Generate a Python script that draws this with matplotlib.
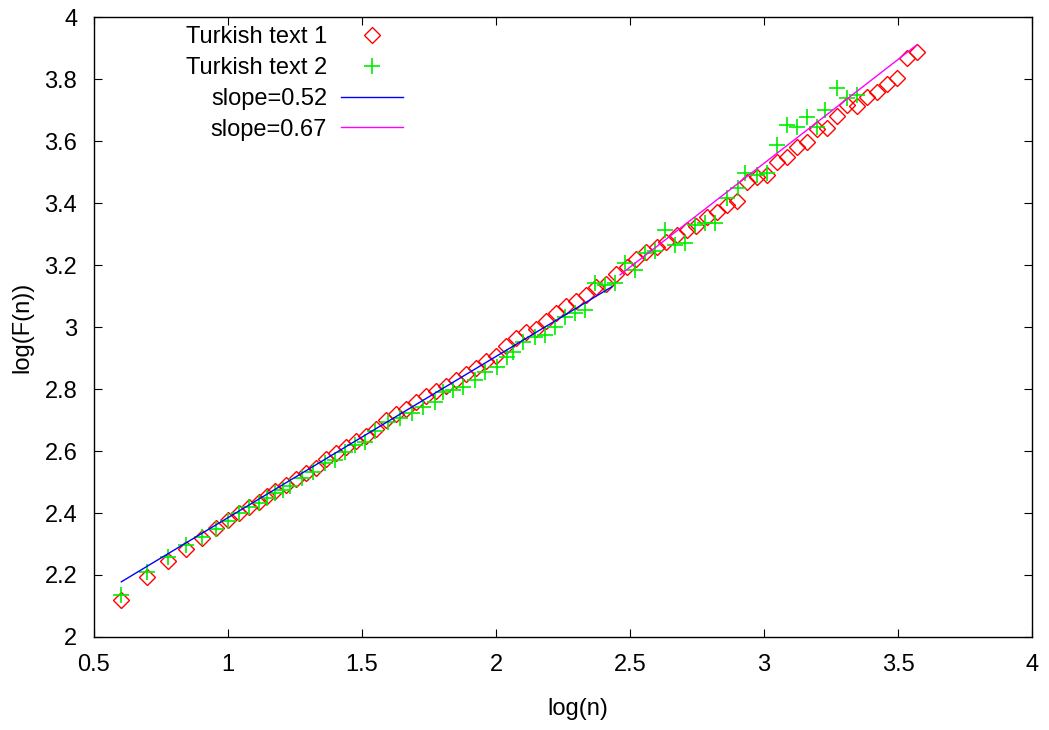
import matplotlib
matplotlib.use("Agg")

import numpy as np
import matplotlib.pyplot as plt

plt.rcParams["font.family"] = ["Liberation Sans", "DejaVu Sans"]

# =========================
# DATA
# =========================

text1_x = [0.602, 0.699, 0.778, 0.845, 0.903, 0.954, 1.000, 1.041, 1.079,
           1.114, 1.146, 1.176, 1.215, 1.252, 1.290, 1.327, 1.365, 1.402,
           1.439, 1.477, 1.514, 1.552, 1.589, 1.626, 1.664, 1.701, 1.739,
           1.776, 1.813, 1.851, 1.888, 1.926, 1.963, 2.000, 2.038, 2.075,
           2.113, 2.150, 2.187, 2.225, 2.262, 2.300, 2.337, 2.374, 2.412,
           2.449, 2.487, 2.524, 2.561, 2.599, 2.636, 2.674, 2.711, 2.748,
           2.786, 2.823, 2.861, 2.898, 2.935, 2.973, 3.010, 3.048, 3.085,
           3.122, 3.160, 3.197, 3.235, 3.272, 3.310, 3.347, 3.384, 3.422,
           3.459, 3.496, 3.534, 3.571]
text1_y = [2.120, 2.195, 2.245, 2.285, 2.320, 2.350, 2.377, 2.400, 2.420,
           2.437, 2.455, 2.470, 2.490, 2.510, 2.528, 2.545, 2.575, 2.595,
           2.613, 2.632, 2.650, 2.672, 2.700, 2.718, 2.737, 2.757, 2.777,
           2.795, 2.810, 2.830, 2.848, 2.868, 2.890, 2.908, 2.940, 2.965,
           2.983, 2.995, 3.020, 3.045, 3.068, 3.085, 3.102, 3.128, 3.140,
           3.170, 3.192, 3.220, 3.242, 3.258, 3.275, 3.297, 3.313, 3.325,
           3.355, 3.370, 3.395, 3.406, 3.468, 3.485, 3.490, 3.532, 3.550,
           3.580, 3.598, 3.638, 3.642, 3.680, 3.716, 3.712, 3.742, 3.758,
           3.784, 3.803, 3.868, 3.887]

text2_x = [0.602, 0.699, 0.778, 0.845, 0.903, 0.954, 1.000, 1.041, 1.079,
           1.114, 1.146, 1.176, 1.204, 1.230, 1.276, 1.317, 1.362, 1.399,
           1.437, 1.474, 1.511, 1.550, 1.597, 1.642, 1.687, 1.728, 1.772,
           1.802, 1.840, 1.877, 1.922, 1.959, 2.004, 2.041, 2.063, 2.101,
           2.146, 2.183, 2.220, 2.257, 2.295, 2.332, 2.369, 2.407, 2.444,
           2.481, 2.519, 2.556, 2.593, 2.630, 2.668, 2.705, 2.743, 2.780,
           2.817, 2.862, 2.903, 2.929, 2.974, 3.011, 3.049, 3.086, 3.123,
           3.160, 3.198, 3.228, 3.272, 3.310, 3.347]
text2_y = [2.135, 2.210, 2.258, 2.297, 2.323, 2.348, 2.374, 2.400, 2.419,
           2.432, 2.450, 2.465, 2.475, 2.487, 2.513, 2.532, 2.561, 2.571,
           2.597, 2.619, 2.629, 2.665, 2.694, 2.706, 2.723, 2.742, 2.758,
           2.790, 2.797, 2.806, 2.829, 2.855, 2.871, 2.903, 2.919, 2.952,
           2.968, 2.974, 3.000, 3.032, 3.045, 3.055, 3.142, 3.135, 3.142,
           3.206, 3.184, 3.239, 3.245, 3.313, 3.265, 3.271, 3.330, 3.335,
           3.335, 3.416, 3.448, 3.497, 3.490, 3.497, 3.587, 3.652, 3.645,
           3.677, 3.645, 3.700, 3.771, 3.739, 3.748]

# fitted lines: slope, intercept, x range
fit1_slope, fit1_icpt, fit1_range = 0.52, 1.865, (0.602, 2.433)
fit2_slope, fit2_icpt, fit2_range = 0.67, 1.518, (2.463, 3.571)

x_ticks = [0.5, 1, 1.5, 2, 2.5, 3, 3.5, 4]
y_ticks = [2, 2.2, 2.4, 2.6, 2.8, 3, 3.2, 3.4, 3.6, 3.8, 4]

# =========================
# FIGURE
# =========================

fig = plt.figure(figsize=(10.49, 7.30), dpi=100)
ax = fig.add_axes([0.0896, 0.1274, 0.8942, 0.8493])

ax.plot(text1_x, text1_y, linestyle="none", marker="D", markersize=7.8,
        markerfacecolor="none", markeredgecolor="#ff0000",
        markeredgewidth=1.0, label="Turkish text 1")

ax.plot(text2_x, text2_y, linestyle="none", marker="+", markersize=11,
        color="#00ee00", markeredgewidth=1.2, label="Turkish text 2")

fx1 = np.array(fit1_range)
ax.plot(fx1, fit1_slope * fx1 + fit1_icpt, color="#0000ff", lw=1.0,
        label="slope=0.52")

fx2 = np.array(fit2_range)
ax.plot(fx2, fit2_slope * fx2 + fit2_icpt, color="#ff00ff", lw=1.0,
        label="slope=0.67")

# =========================
# AXES
# =========================

ax.set_xlim(0.5, 4)
ax.set_ylim(2, 4)
ax.set_xticks(x_ticks)
ax.set_xticklabels([f"{t:g}" for t in x_ticks])
ax.set_yticks(y_ticks)
ax.set_yticklabels([f"{t:g}" for t in y_ticks])

ax.tick_params(direction="in", length=6, width=0.8, top=True, right=True,
               labelsize=17, pad=12)

for sp in ax.spines.values():
    sp.set_linewidth(1.0)

ax.set_xlabel("log(n)", fontsize=17)
ax.xaxis.set_label_coords(0.516, -0.098)
ax.set_ylabel("log(F(n))", fontsize=17)
ax.yaxis.set_label_coords(-0.065, 0.5)

leg = ax.legend(loc="upper right", bbox_to_anchor=(0.329, 0.985),
                frameon=False, markerfirst=False, numpoints=1,
                fontsize=17, handlelength=2.6, handletextpad=0.6,
                labelspacing=0.37, borderpad=0, borderaxespad=0)

plt.savefig("out.png", dpi=100)
plt.close()
